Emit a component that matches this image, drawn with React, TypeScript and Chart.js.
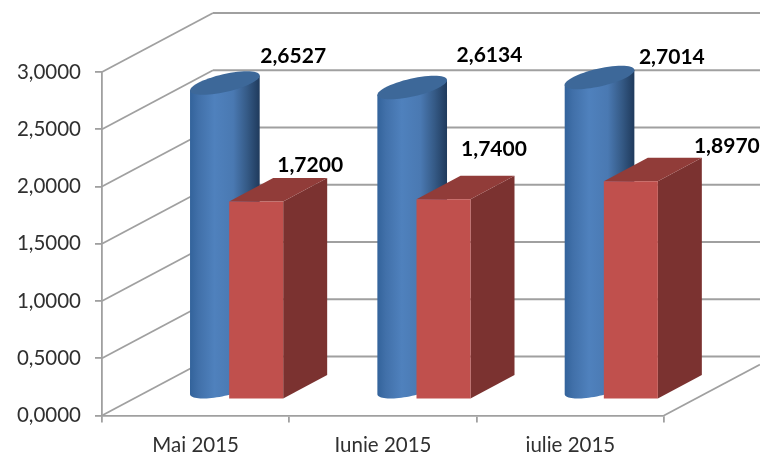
import React, { useEffect, useRef } from "react";
import { Chart, registerables } from "chart.js";

Chart.register(...registerables);

const categories = ["Mai 2015", "Iunie 2015", "iulie 2015"];
const blueValues = [2.6527, 2.6134, 2.7014];
const redValues = [1.72, 1.74, 1.897];
const blueLabelOffsets = [[68.3, -27], [77.3, -32], [72.3, -20]];
const redLabelOffsets = [[32, -25], [28.5, -38], [74, -23]];

const GRID = "#a0a0a0";
const WALL = { dx: 111, dy: -59 };
const BAR_SHIFT = { dx: 55.5, dy: -28.75 };
const BLUE_NUDGE = 0.7;
const BAR_DEPTH = { dx: 44, dy: -23.5 };
const fmt = (v: number) => v.toFixed(4).replace(".", ",");

function line(ctx: CanvasRenderingContext2D, x1: number, y1: number, x2: number, y2: number) {
  ctx.beginPath();
  ctx.moveTo(x1, y1);
  ctx.lineTo(x2, y2);
  ctx.stroke();
}

function poly(ctx: CanvasRenderingContext2D, pts: number[][], fill: string | CanvasGradient) {
  ctx.fillStyle = fill;
  ctx.beginPath();
  pts.forEach((p, i) => (i ? ctx.lineTo(p[0], p[1]) : ctx.moveTo(p[0], p[1])));
  ctx.closePath();
  ctx.fill();
}

const threeD = {
  id: "threeD",
  beforeDatasetsDraw(chart: any) {
    const { ctx, scales, chartArea, width } = chart;
    const y0 = scales.y.getPixelForValue(0);
    ctx.save();
    ctx.strokeStyle = GRID;
    ctx.lineWidth = 1.8;
    scales.y.ticks.forEach((t: any) => {
      const y = scales.y.getPixelForValue(t.value);
      line(ctx, chartArea.left, y, chartArea.left + WALL.dx, y + WALL.dy);
      line(ctx, chartArea.left + WALL.dx, y + WALL.dy, width, y + WALL.dy);
    });
    const slope = WALL.dy / WALL.dx;
    line(ctx, chartArea.right, y0, width, y0 + (width - chartArea.right) * slope);

    const hw = chart.getDatasetMeta(1).data[0].width / 2;
    const ax = BAR_DEPTH.dx / 2;
    const ay = BAR_DEPTH.dy / 2;
    const t0 = Math.atan2(ax, hw);
    const ell = (cx: number, cy: number, t: number) => [
      cx + Math.cos(t) * hw + Math.sin(t) * ax,
      cy + Math.sin(t) * ay,
    ];
    const ext = Math.hypot(hw, ax);

    categories.forEach((_, i) => {
      // cylinder
      const b = chart.getDatasetMeta(0).data[i];
      const cx = b.x + BAR_SHIFT.dx + BLUE_NUDGE;
      const topY = b.y + BAR_SHIFT.dy;
      const baseY = y0 + BAR_SHIFT.dy;
      const g = ctx.createLinearGradient(cx - ext, 0, cx + ext, 0);
      g.addColorStop(0, "#33639b");
      g.addColorStop(0.12, "#4170a9");
      g.addColorStop(0.35, "#4f81bd");
      g.addColorStop(0.62, "#4a79b2");
      g.addColorStop(0.82, "#355a86");
      g.addColorStop(1, "#1f3a5c");
      const body: number[][] = [];
      for (let k = 0; k <= 40; k++) body.push(ell(cx, baseY, t0 + Math.PI + (k / 40) * Math.PI));
      const r = ell(cx, topY, t0);
      const l = ell(cx, topY, t0 + Math.PI);
      body.push(r, l);
      poly(ctx, body, g);
      const top: number[][] = [];
      for (let k = 0; k < 60; k++) top.push(ell(cx, topY, (k / 60) * Math.PI * 2));
      poly(ctx, top, "#3d6899");

      // box
      const d = chart.getDatasetMeta(1).data[i];
      const fx1 = d.x + BAR_SHIFT.dx - hw - ax;
      const fx2 = fx1 + hw * 2;
      const fTop = d.y + BAR_SHIFT.dy - ay;
      const fBot = y0 + BAR_SHIFT.dy - ay;
      const { dx, dy } = BAR_DEPTH;
      poly(ctx, [[fx2, fTop], [fx2 + dx, fTop + dy], [fx2 + dx, fBot + dy], [fx2, fBot]], "#7b3230");
      poly(ctx, [[fx1, fTop], [fx2, fTop], [fx2 + dx, fTop + dy], [fx1 + dx, fTop + dy]], "#913c39");
      poly(ctx, [[fx1, fTop], [fx2, fTop], [fx2, fBot], [fx1, fBot]], "#c0504d");
    });

    ctx.fillStyle = "#000";
    ctx.font = "bold 21px Lato";
    ctx.textAlign = "center";
    ctx.textBaseline = "middle";
    categories.forEach((_, i) => {
      const b = chart.getDatasetMeta(0).data[i];
      const d = chart.getDatasetMeta(1).data[i];
      ctx.fillText(fmt(blueValues[i]), b.x + BAR_SHIFT.dx + BLUE_NUDGE + blueLabelOffsets[i][0], b.y + BAR_SHIFT.dy + blueLabelOffsets[i][1]);
      ctx.fillText(fmt(redValues[i]), d.x + BAR_SHIFT.dx + redLabelOffsets[i][0], d.y + BAR_SHIFT.dy + redLabelOffsets[i][1]);
    });
    ctx.restore();
    return false;
  },
};

export default function App() {
  const ref = useRef<HTMLCanvasElement>(null);
  useEffect(() => {
    const chart = new Chart(ref.current!, {
      type: "bar",
      data: {
        labels: categories,
        datasets: [
          { label: "Serie 1", data: blueValues, backgroundColor: "#4f81bd" },
          { label: "Serie 2", data: redValues, backgroundColor: "#c0504d" },
        ],
      },
      plugins: [threeD],
      options: {
        responsive: false,
        animation: false,
        categoryPercentage: 0.5766,
        barPercentage: 1,
        layout: { padding: { top: 72, right: 96, left: 0, bottom: 0 } },
        plugins: { legend: { display: false }, tooltip: { enabled: false }, title: { display: false } },
        scales: {
          x: {
            afterFit: (s: any) => { s.height = 39.5; },
            grid: { drawOnChartArea: false, drawTicks: true, tickLength: 7, color: GRID, lineWidth: 1.8 },
            border: { display: true, color: GRID, width: 1.8 },
            ticks: { color: "#303030", font: { family: "Lato", size: 20.5 }, padding: 11, maxRotation: 0 },
          },
          y: {
            min: 0,
            max: 3,
            afterFit: (s: any) => { s.width = 102; },
            grid: { drawOnChartArea: false, drawTicks: true, tickLength: 7, color: GRID, lineWidth: 1.8 },
            border: { display: true, color: GRID, width: 1.8 },
            ticks: {
              stepSize: 0.5,
              color: "#303030",
              font: { family: "Lato", size: 20.5 },
              padding: 14,
              callback: (v: any) => fmt(Number(v)),
            },
          },
        },
      } as any,
    });
    return () => chart.destroy();
  }, []);
  return (
    <div style={{ position: "fixed", left: 0, top: 0, width: 760, height: 455, background: "#fff" }}>
      <canvas ref={ref} width={760} height={455} style={{ display: "block" }} />
    </div>
  );
}
